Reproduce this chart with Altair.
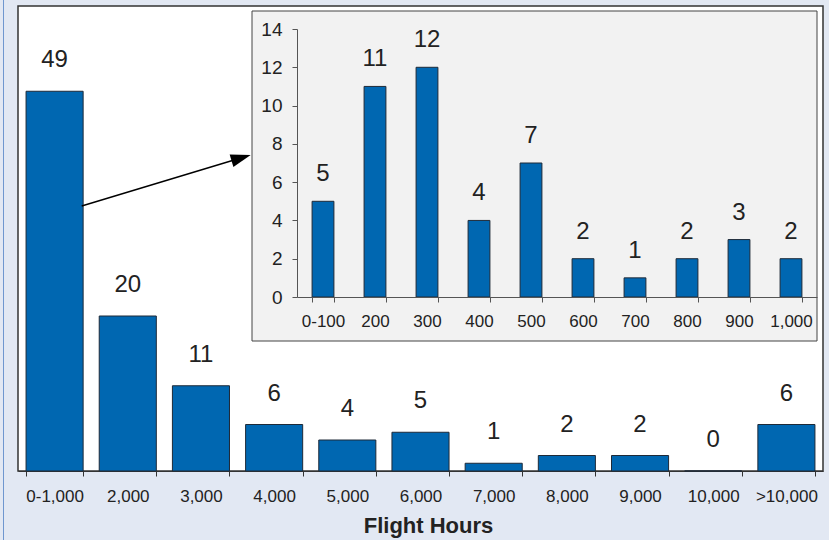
import altair as alt
import pandas as pd

# Pilot counts by total flight hours
hour_bins = ["0-1,000", "2,000", "3,000", "4,000", "5,000", "6,000",
             "7,000", "8,000", "9,000", "10,000", ">10,000"]
hour_counts = [49, 20, 11, 6, 4, 5, 1, 2, 2, 0, 6]

# Breakdown of the first 1,000 hours
low_bins = ["0-100", "200", "300", "400", "500", "600", "700", "800", "900", "1,000"]
low_counts = [5, 11, 12, 4, 7, 2, 1, 2, 3, 2]

main_df = pd.DataFrame({"bin": hour_bins, "count": hour_counts})
low_df = pd.DataFrame({"bin": low_bins, "count": low_counts})
one = pd.DataFrame({"k": [0]})

FONT = "Liberation Sans"
BLUE = "#0067B1"
INK = "#222222"

# ---- main histogram ----
mx = alt.X("bin:N", sort=hour_bins,
           scale=alt.Scale(paddingInner=0.22, paddingOuter=0.11),
           axis=alt.Axis(title="Flight Hours", labelAngle=0, tickBand="extent",
                         tickSize=5, labelPadding=12, labelFontSize=17,
                         labelFont=FONT, labelColor=INK, domainColor="#333333",
                         tickColor="#333333", titleFont=FONT, titleFontSize=22,
                         titleFontWeight="bold", titleColor=INK, titlePadding=11,
                         titleX=410, titleAlign="center"))
my = alt.Y("count:Q", scale=alt.Scale(domain=[0, 60], nice=False), axis=None)

main_bars = alt.Chart(main_df).mark_bar(
    color=BLUE, stroke="#1E2A38", strokeWidth=1
).encode(x=mx, y=my)
main_text = alt.Chart(main_df).mark_text(
    font=FONT, fontSize=24, color=INK, baseline="middle", dy=-31
).encode(x=mx, y=my, text="count:Q")
main = alt.layer(main_bars, main_text)

# ---- inset panel ----
inset_box = alt.Chart(one).mark_rect(
    fill="#F2F2F2", stroke="#444444", strokeWidth=1
).encode(x=alt.value(234), x2=alt.value(799), y=alt.value(5), y2=alt.value(335))

ix = alt.X("bin:N", sort=low_bins,
           scale=alt.Scale(range=[279, 799], paddingInner=0.58, paddingOuter=0.29),
           axis=alt.Axis(title=None, orient="bottom", offset=-174, labelAngle=0,
                         tickBand="extent", tickSize=5, labelPadding=11,
                         labelFontSize=17, labelFont=FONT, labelColor=INK,
                         domainColor="#555555", tickColor="#555555", zindex=2))
iy = alt.Y("count:Q",
           scale=alt.Scale(domain=[0, 14], range=[291, 23], nice=False, zero=True),
           axis=alt.Axis(title=None, orient="left", offset=-279,
                         values=[0, 2, 4, 6, 8, 10, 12, 14], grid=False,
                         tickSize=5, labelPadding=10, labelFontSize=19,
                         labelFont=FONT, labelColor=INK, domainColor="#555555",
                         tickColor="#555555", zindex=2))

inset_bars = alt.Chart(low_df).mark_bar(
    color=BLUE, stroke="#1E2A38", strokeWidth=1
).encode(x=ix, y=iy)
inset_text = alt.Chart(low_df).mark_text(
    font=FONT, fontSize=24, color=INK, baseline="middle", dy=-27
).encode(x=ix, y=iy, text="count:Q")
inset = alt.layer(inset_bars, inset_text)

# ---- pointer arrow from the first bar to the inset ----
arrow_line = alt.Chart(one).mark_rule(color="black", strokeWidth=1.5).encode(
    x=alt.value(63.7), y=alt.value(200), x2=alt.value(226), y2=alt.value(151)
)
arrow_head = alt.Chart(one).mark_point(
    shape="M1,0L-1,-0.65L-1,0.65Z", filled=True, color="black", opacity=1,
    size=400, angle=343.2
).encode(x=alt.value(223.1), y=alt.value(151.9))

# thin blue edge along the left side of the figure
edge = alt.Chart(one).mark_rule(color="#6F97CF", strokeWidth=1).encode(
    x=alt.value(-14.5), y=alt.value(-6), y2=alt.value(534)
)

chart = alt.layer(
    main, inset_box, inset, arrow_line, arrow_head, edge
).resolve_scale(
    x="independent", y="independent"
).properties(
    width=805, height=465,
    autosize=alt.AutoSizeParams(type="none"),
    padding={"left": 18, "top": 6, "right": 6, "bottom": 69},
    background="#E2E8F3",
).configure_view(
    fill="white", stroke="#333333", strokeWidth=1.5
)

chart.save("out.html", embed_options={"renderer": "svg", "actions": False})
